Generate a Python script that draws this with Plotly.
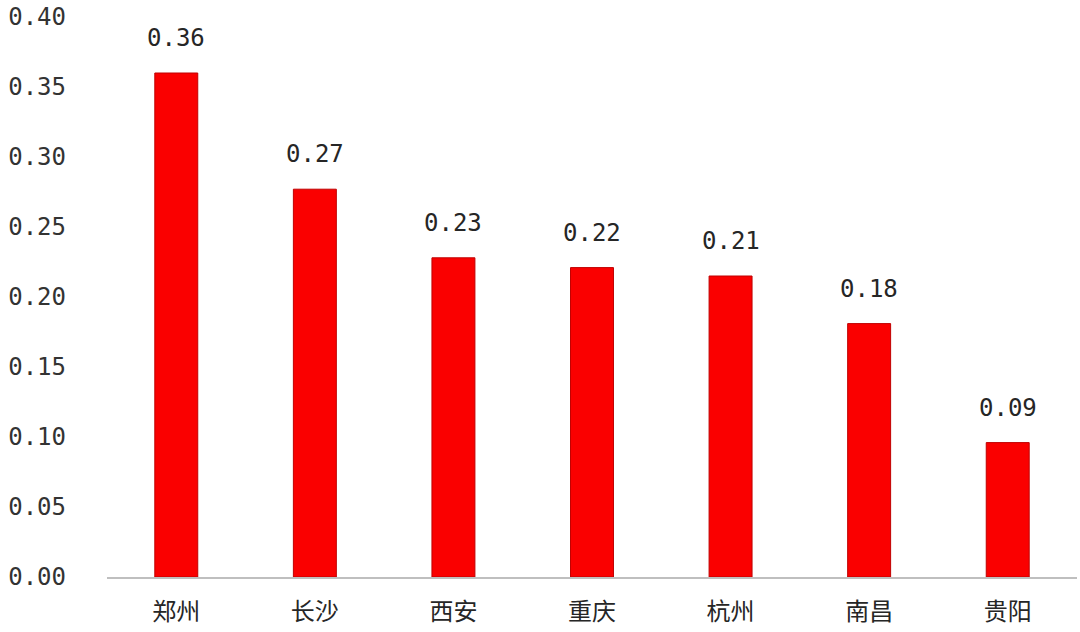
import plotly.graph_objects as go

cities = ["郑州", "长沙", "西安", "重庆", "杭州", "南昌", "贵阳"]
values = [0.360, 0.277, 0.228, 0.221, 0.215, 0.181, 0.096]
labels = ["0.36", "0.27", "0.23", "0.22", "0.21", "0.18", "0.09"]
y_ticks = [0.00, 0.05, 0.10, 0.15, 0.20, 0.25, 0.30, 0.35, 0.40]

num_font = "DejaVu Sans Mono"
cjk_font = "Noto Sans CJK SC"

fig = go.Figure(
    go.Bar(
        x=cities,
        y=values,
        marker=dict(color="#fa0000", line=dict(color="#c00000", width=1)),
        hoverinfo="skip",
    )
)

for city, val, lab in zip(cities, values, labels):
    fig.add_annotation(
        x=city,
        y=val,
        text=lab,
        showarrow=False,
        yanchor="bottom",
        yshift=19,
        font=dict(family=num_font, size=24, color="#262626"),
    )

fig.update_layout(
    width=1080,
    height=632,
    margin=dict(l=107, r=3, t=17, b=55),
    paper_bgcolor="white",
    plot_bgcolor="white",
    bargap=0.69,
    showlegend=False,
)
fig.update_yaxes(
    range=[0, 0.40],
    tickvals=y_ticks,
    tickformat=".2f",
    showgrid=False,
    zeroline=False,
    showline=False,
    ticks="",
    automargin=False,
    ticklabelstandoff=40,
    tickfont=dict(family=num_font, size=24, color="#333333"),
)
fig.update_xaxes(
    showgrid=False,
    showline=True,
    linecolor="#bfbfbf",
    linewidth=2,
    ticks="",
    automargin=False,
    ticklabelstandoff=12,
    tickfont=dict(family=cjk_font, size=24, color="#262626"),
)

# the page body has a default 8px margin, drop it so the chart sits at 0,0
fig.write_html(
    "out.html",
    config={"displayModeBar": False},
    post_script="document.body.style.margin='0';",
)
